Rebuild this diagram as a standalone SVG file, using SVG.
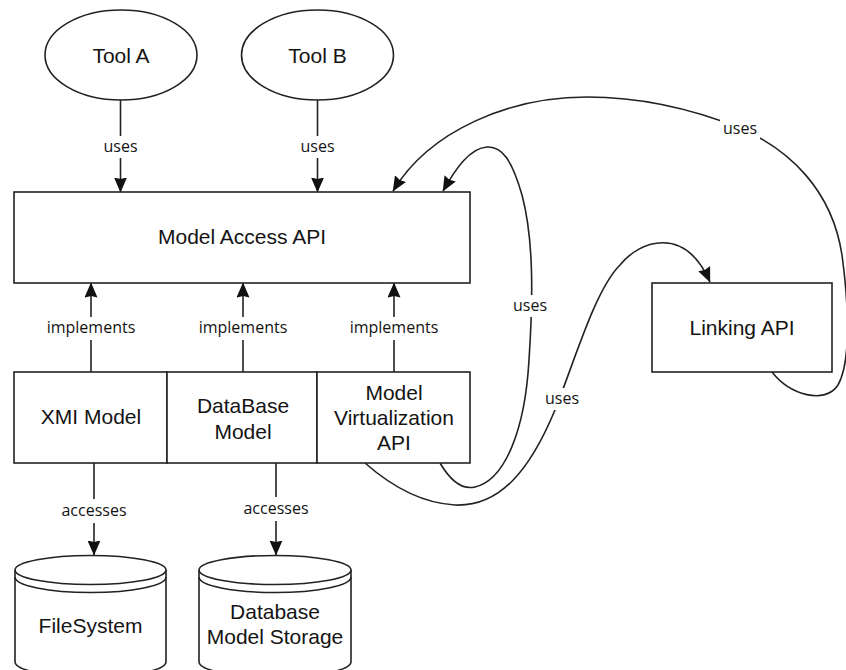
<svg xmlns="http://www.w3.org/2000/svg" width="846" height="670" viewBox="0 0 846 670">
  <style>
    .shape { fill: #fff; stroke: #222; stroke-width: 1.6; }
    .conn { fill: none; stroke: #222; stroke-width: 1.6; }
    .t { font-family: "Liberation Sans", Arial, sans-serif; font-size: 21px; fill: #141414; text-anchor: middle; }
    .lbl { font-family: "Open Sans", "Noto Sans", sans-serif; font-size: 16px; fill: #141414; text-anchor: middle; }
    .lblbg { fill: #fff; }
  </style>
  <defs>
    <marker id="arrow" viewBox="0 0 15 13" refX="14.5" refY="6.5" markerWidth="15" markerHeight="13" markerUnits="userSpaceOnUse" orient="auto">
      <path d="M0,0 L15,6.5 L0,13 L1.5,6.5 z" fill="#111"/>
    </marker>
  </defs>
  <rect width="846" height="670" fill="#fff"/>

  <!-- connectors -->
  <g id="connectors" class="conn" marker-end="url(#arrow)">
    <path d="M120.5,100 L120.5,192"/>
    <path d="M317.5,100 L317.5,192"/>
    <path d="M91,372 L91,283"/>
    <path d="M243,372 L243,283"/>
    <path d="M394,372 L394,283"/>
    <path d="M94,463 L94,555"/>
    <path d="M276,463 L276,555"/>
    <!-- Linking API back to Model Access API -->
    <path d="M772,372 C790,395 825,405 838,385 C852,360 848,300 842,255 C832,190 790,150 740,128 C690,108 640,97 587,97 C510,97 430,130 393,191"/>
    <!-- Model Virtualization API loop to Model Access API -->
    <path d="M440,463 C450,480 462,490 475,487 C505,480 525,430 529,360 C533,300 534,240 522,195 C512,160 502,146 487,147 C470,148 456,168 443,191"/>
    <!-- Model Virtualization API to Linking API -->
    <path d="M365,463 C390,485 420,503 455,505 C500,507 530,470 555,410 C575,360 595,290 620,265 C640,240 685,225 710,282"/>
  </g>

  <!-- connector labels -->
  <g id="labels">
    <rect class="lblbg" x="101" y="136" width="40" height="22"/>
    <text class="lbl" x="120.5" y="152">uses</text>
    <rect class="lblbg" x="297.5" y="136" width="40" height="22"/>
    <text class="lbl" x="317.5" y="152">uses</text>
    <rect class="lblbg" x="45" y="317" width="92" height="23"/>
    <text class="lbl" x="91" y="333">implements</text>
    <rect class="lblbg" x="197" y="317" width="92" height="23"/>
    <text class="lbl" x="243" y="333">implements</text>
    <rect class="lblbg" x="348" y="317" width="92" height="23"/>
    <text class="lbl" x="394" y="333">implements</text>
    <rect class="lblbg" x="57" y="499" width="74" height="24"/>
    <text class="lbl" x="94" y="516">accesses</text>
    <rect class="lblbg" x="239" y="497" width="74" height="24"/>
    <text class="lbl" x="276" y="514">accesses</text>
    <rect class="lblbg" x="720" y="118" width="40" height="22"/>
    <text class="lbl" x="740" y="134">uses</text>
    <rect class="lblbg" x="510" y="295" width="40" height="22"/>
    <text class="lbl" x="530" y="311">uses</text>
    <rect class="lblbg" x="542" y="388" width="40" height="22"/>
    <text class="lbl" x="562" y="404">uses</text>
  </g>

  <!-- tools -->
  <g id="tool-a">
    <ellipse class="shape" cx="121" cy="55" rx="76" ry="45"/>
    <text class="t" x="121" y="63">Tool A</text>
  </g>
  <g id="tool-b">
    <ellipse class="shape" cx="317.5" cy="55" rx="76" ry="45"/>
    <text class="t" x="317.5" y="63">Tool B</text>
  </g>

  <!-- APIs -->
  <g id="model-access-api">
    <rect class="shape" x="14" y="192" width="456" height="91"/>
    <text class="t" x="242" y="244">Model Access API</text>
  </g>
  <g id="linking-api">
    <rect class="shape" x="652" y="283" width="180" height="89"/>
    <text class="t" x="742" y="335">Linking API</text>
  </g>

  <!-- model implementations -->
  <g id="xmi-model">
    <rect class="shape" x="14" y="372" width="153" height="91"/>
    <text class="t" x="91" y="424">XMI Model</text>
  </g>
  <g id="database-model">
    <rect class="shape" x="167" y="372" width="150" height="91"/>
    <text class="t" x="243" y="413">DataBase</text>
    <text class="t" x="243" y="438.5">Model</text>
  </g>
  <g id="model-virtualization-api">
    <rect class="shape" x="317" y="372" width="153" height="91"/>
    <text class="t" x="394" y="400">Model</text>
    <text class="t" x="394" y="425">Virtualization</text>
    <text class="t" x="394" y="450">API</text>
  </g>

  <!-- storage -->
  <g id="filesystem">
    <path class="shape" d="M15,570 L15,662 A75.5,15 0 0 0 166,662 L166,570"/>
    <ellipse class="shape" cx="90.5" cy="570" rx="75.5" ry="14.5"/>
    <path class="conn" d="M15,577 A75.5,15.5 0 0 0 166,577"/>
    <text class="t" x="90.5" y="632.5">FileSystem</text>
  </g>
  <g id="database-model-storage">
    <path class="shape" d="M199,570 L199,662 A76,15 0 0 0 351,662 L351,570"/>
    <ellipse class="shape" cx="275" cy="570" rx="76" ry="14.5"/>
    <path class="conn" d="M199,577 A76,15.5 0 0 0 351,577"/>
    <text class="t" x="275" y="618.5">Database</text>
    <text class="t" x="275" y="644">Model Storage</text>
  </g>
</svg>
